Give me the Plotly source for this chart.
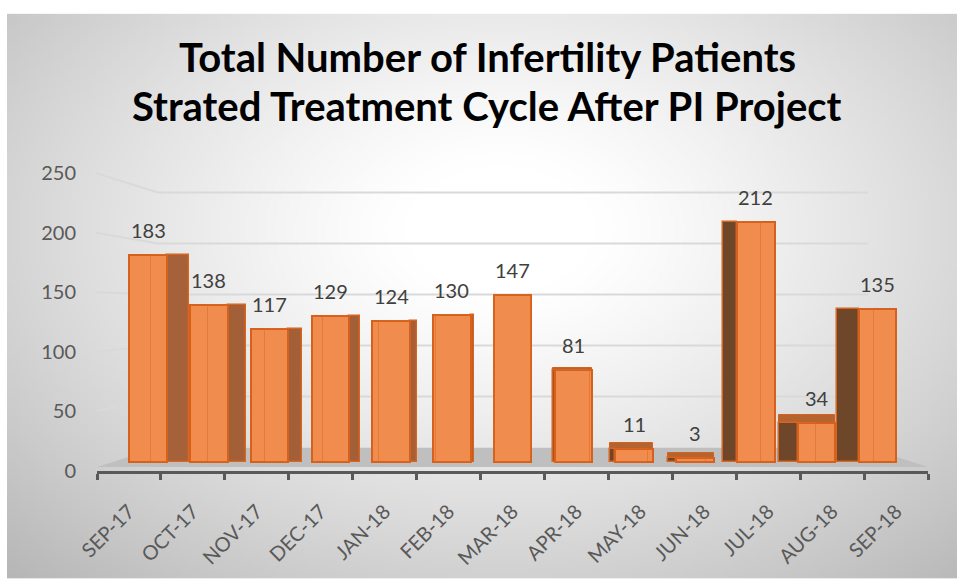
import base64, struct, zlib, math
import plotly.graph_objects as go

# ---------------- data ----------------
categories = ["SEP-17", "OCT-17", "NOV-17", "DEC-17", "JAN-18", "FEB-18", "MAR-18",
              "APR-18", "MAY-18", "JUN-18", "JUL-18", "AUG-18", "SEP-18"]
patients = [183, 138, 117, 129, 124, 130, 147, 81, 11, 3, 212, 34, 135]
y_ticks = [0, 50, 100, 150, 200, 250]
title_lines = ["Total Number of Infertility Patients",
               "Strated Treatment Cycle After PI Project"]

# ---------------- style (pseudo-3D look) ----------------
# visible side depth of each bar in px (+ right side, - left side)
side_px = [22, 18, 14, 11, 7, 3, 0, -2, -5, -8, -14, -19, -22]
# visible top-face depth in px (low bars seen from above)
top_px = [0, 0, 0, 0, 0, 0, 0, 2, 6, 5, 0, 8, 0]
side_colors = ["#A5613A", "#A25F38", "#A25F38", "#A25F38", "#A25F38", "#A25F38", "#A25F38",
               "#6E4629", "#6E4629", "#6E4629", "#6E4629", "#6E4629", "#6E4629"]
FRONT = "#F08C4E"
TOP = "#B5642F"
EDGE = "#D5611C"
FONT = "Lato"

W, H = 957, 581
L, R, T, B = 97, 928, 150, 473
PW, PH = R - L, B - T


def px_x(px):
    return (px - L) / PW


def px_y(py):
    return (B - py) / PH


def yrange(zero_px, per_unit):
    r0 = -(B - zero_px) / per_unit
    return [r0, r0 + PH / per_unit]


lab_zero, lab_per = 472.8, 1.198     # value-label axis (front)
bar_zero, bar_per = 463.5, 1.138     # bars
wall_zero, wall_per = 449.5, 1.0272  # back wall gridlines
bar_c0, bar_step = 148.0, 60.78      # bar centres
fw = 37.5 / bar_step                 # front-face width (category units)

# ---------------- background gradient image ----------------
def make_bg(w=240, h=144, x0=7, y0=13, x1=957, y1=581):
    cx, cy, ax, ay = 500, 230, 490, 330
    raw = bytearray()
    for j in range(h):
        raw.append(0)
        y = y0 + (j + 0.5) / h * (y1 - y0)
        for i in range(w):
            x = x0 + (i + 0.5) / w * (x1 - x0)
            r = math.hypot((x - cx) / ax, (y - cy) / ay)
            t = min(max((r - 0.2) / 0.8, 0), 1.7)
            v = 255 - 42 * t ** 1.2
            raw.append(int(max(150, min(255, v))))

    def chunk(tag, data):
        return (struct.pack(">I", len(data)) + tag + data +
                struct.pack(">I", zlib.crc32(tag + data) & 0xffffffff))

    png = (b"\x89PNG\r\n\x1a\n" +
           chunk(b"IHDR", struct.pack(">IIBBBBB", w, h, 8, 0, 0, 0, 0)) +
           chunk(b"IDAT", zlib.compress(bytes(raw), 9)) + chunk(b"IEND", b""))
    return "data:image/png;base64," + base64.b64encode(png).decode()


idx = list(range(len(categories)))
d_units = [s / bar_step for s in side_px]
side_offset = [fw / 2 if d >= 0 else -fw / 2 + d for d in d_units]
side_width = [max(abs(d), 1e-4) for d in d_units]
side_line_w = [1.5 if abs(d) > 0 else 0 for d in d_units]
back_offset = [-fw / 2 + d for d in d_units]
top_offset = [-fw / 2 + min(d, 0) for d in d_units]
top_width = [fw + abs(d) for d in d_units]
top_depth = [t / bar_per for t in top_px]
top_line_w = [1 if t > 0 else 0 for t in top_px]

fig = go.Figure()

# labels/ticks axis carrier (invisible)
fig.add_trace(go.Scatter(x=categories, y=[0] * len(categories), xaxis="x", yaxis="y",
                         mode="markers", marker=dict(opacity=0), hoverinfo="skip",
                         showlegend=False))

# top faces (stacked on the bar values)
fig.add_trace(go.Bar(x=idx, y=top_depth, base=patients, xaxis="x2", yaxis="y2",
                     offset=top_offset, width=top_width,
                     marker=dict(color=TOP, line=dict(color=EDGE, width=top_line_w)),
                     hoverinfo="skip", showlegend=False))
# side faces
fig.add_trace(go.Bar(x=idx, y=patients, xaxis="x2", yaxis="y2",
                     offset=side_offset, width=side_width,
                     marker=dict(color=side_colors, line=dict(color=EDGE, width=side_line_w)),
                     hoverinfo="skip", showlegend=False))
# front faces
fig.add_trace(go.Bar(x=idx, y=patients, xaxis="x2", yaxis="y2",
                     offset=-fw / 2, width=fw,
                     marker=dict(color=FRONT, line=dict(color=EDGE, width=2)),
                     hovertext=categories, showlegend=False))
# back edges seen through the translucent front
fig.add_trace(go.Bar(x=idx, y=patients, xaxis="x2", yaxis="y2",
                     offset=back_offset, width=fw,
                     marker=dict(color="rgba(0,0,0,0)",
                                 line=dict(color="rgba(220,105,35,0.55)", width=1)),
                     hoverinfo="skip", showlegend=False))

annotations = []
for i, v in zip(idx, patients):
    annotations.append(dict(x=i, y=v, xref="x2", yref="y2", text=str(v), showarrow=False,
                            yshift=25, font=dict(family=FONT, size=20, color="#404040")))
for k, line in enumerate(title_lines):
    annotations.append(dict(x=px_x(487), y=px_y(56 + 50 * k), xref="paper", yref="paper",
                            text="<b>" + line + "</b>", showarrow=False,
                            xanchor="center", yanchor="middle",
                            font=dict(family=FONT, size=40, color="#000000")))

shapes = []
# floor
fx = [px_x(p) for p in (97, 928, 868, 158)]
fy = [px_y(p) for p in (469, 469, 449.5, 449.5)]
shapes.append(dict(type="path", xref="paper", yref="paper", layer="below",
                   path=f"M{fx[0]},{fy[0]} L{fx[1]},{fy[1]} L{fx[2]},{fy[2]} L{fx[3]},{fy[3]} Z",
                   fillcolor="#BFBFBF", line=dict(width=0)))
# back-wall gridlines and side-wall gridlines
for v in y_ticks[1:]:
    shapes.append(dict(type="line", xref="paper", yref="y3", x0=px_x(158), x1=px_x(868),
                       y0=v, y1=v, layer="below", line=dict(color="#D9D9D9", width=2)))
    shapes.append(dict(type="line", xref="paper", yref="paper",
                       x0=px_x(96), y0=px_y(lab_zero - v * lab_per),
                       x1=px_x(158), y1=px_y(wall_zero - v * wall_per),
                       layer="below", line=dict(color="#D9D9D9", width=2)))

fig.update_layout(
    width=W, height=H,
    margin=dict(l=L, r=W - R, t=T, b=H - B, pad=0),
    paper_bgcolor="white", plot_bgcolor="rgba(0,0,0,0)",
    showlegend=False, bargap=0,
    annotations=annotations, shapes=shapes,
    images=[dict(source=make_bg(), xref="paper", yref="paper",
                 x=px_x(7), y=px_y(13), sizex=(957 - 7) / PW, sizey=(581 - 13) / PH,
                 xanchor="left", yanchor="top", sizing="stretch", layer="below")],
    xaxis=dict(type="category", range=[-0.5, len(categories) - 0.5], tickson="boundaries",
               ticks="outside", ticklen=6, tickwidth=3, tickcolor="#595959",
               showline=True, linewidth=3, linecolor="#595959", showgrid=False,
               zeroline=False, tickangle=-45, ticklabelstandoff=18,
               tickfont=dict(family=FONT, size=20, color="#595959"), fixedrange=True),
    yaxis=dict(range=yrange(lab_zero, lab_per), tickvals=y_ticks, showgrid=False,
               zeroline=False, showline=False, ticks="", ticklabelstandoff=20,
               tickfont=dict(family=FONT, size=20, color="#595959"), fixedrange=True),
    xaxis2=dict(overlaying="x", range=[(L - bar_c0) / bar_step, (R - bar_c0) / bar_step],
                visible=False, fixedrange=True),
    yaxis2=dict(overlaying="y", range=yrange(bar_zero, bar_per), visible=False,
                fixedrange=True),
    yaxis3=dict(overlaying="y", range=yrange(wall_zero, wall_per), visible=False,
                fixedrange=True),
)

fig.write_html("out.html", config={"displayModeBar": False},
               post_script="document.body.style.margin='0px';document.body.style.overflow='hidden';")
